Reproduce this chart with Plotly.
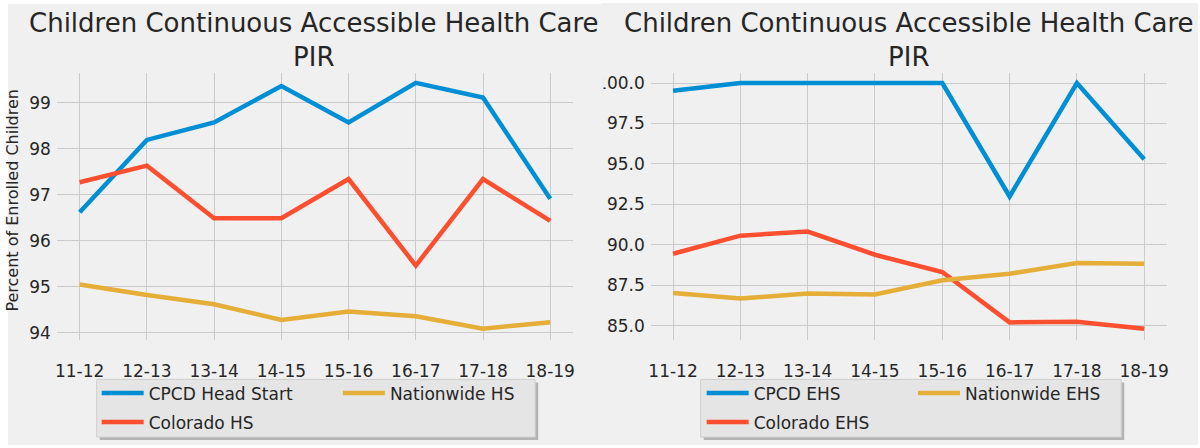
import plotly.graph_objects as go

# ---------------- data ----------------
years = ["11-12", "12-13", "13-14", "14-15", "15-16", "16-17", "17-18", "18-19"]

cpcd_hs = [96.62, 98.19, 98.57, 99.36, 98.57, 99.43, 99.11, 96.91]
colorado_hs = [97.27, 97.63, 96.49, 96.49, 97.34, 95.46, 97.34, 96.43]
nationwide_hs = [95.05, 94.82, 94.62, 94.28, 94.46, 94.36, 94.09, 94.23]

cpcd_ehs = [99.53, 100.0, 100.0, 100.0, 100.0, 92.99, 100.0, 95.29]
colorado_ehs = [89.45, 90.57, 90.82, 89.39, 88.32, 85.21, 85.25, 84.82]
nationwide_ehs = [87.03, 86.68, 86.99, 86.93, 87.81, 88.22, 88.88, 88.84]

left_yticks = [94, 95, 96, 97, 98, 99]
right_yticks = [85.0, 87.5, 90.0, 92.5, 95.0, 97.5, 100.0]

title_text = "Children Continuous Accessible Health Care<br>PIR"
ylabel_text = "Percent of Enrolled Children"

# ---------------- style ----------------
W, H = 1200, 448
BLUE, RED, YELLOW = "#008fd5", "#fc4f30", "#e5ae38"
BG = "#f0f0f0"
GRID = "#cbcbcb"
FONT = "DejaVu Sans"
TXT = "#262626"
LW = 4.5


def fx(px):
    return px / W


def fy(py):
    return 1 - py / H


fig = go.Figure()

left_series = [("CPCD Head Start", cpcd_hs, BLUE, "legend"),
               ("Colorado HS", colorado_hs, RED, "legend"),
               ("Nationwide HS", nationwide_hs, YELLOW, "legend3")]
right_series = [("CPCD EHS", cpcd_ehs, BLUE, "legend2"),
                ("Colorado EHS", colorado_ehs, RED, "legend2"),
                ("Nationwide EHS", nationwide_ehs, YELLOW, "legend4")]

for name, vals, col, lg in left_series:
    fig.add_trace(go.Scatter(x=years, y=vals, mode="lines", name=name,
                             legendgroup=name,
                             line=dict(color=col, width=LW),
                             xaxis="x", yaxis="y", legend=lg))
for name, vals, col, lg in right_series:
    fig.add_trace(go.Scatter(x=years, y=vals, mode="lines", name=name,
                             legendgroup=name,
                             line=dict(color=col, width=LW),
                             xaxis="x2", yaxis="y2", legend=lg))

ydom = [fy(342), fy(73)]
axis_common = dict(showline=False, zeroline=False, ticks="", showgrid=True,
                   gridcolor=GRID, gridwidth=1,
                   tickfont=dict(family=FONT, size=17, color=TXT))

fig.update_layout(
    xaxis=dict(domain=[fx(55), fx(573)], anchor="y", type="category",
               range=[-0.34, 7.34], ticklabelstandoff=19, **axis_common),
    yaxis=dict(domain=ydom, anchor="x", range=[93.849, 99.654],
               tickvals=left_yticks, ticklabelstandoff=5, **axis_common),
    xaxis2=dict(domain=[fx(651), fx(1169)], anchor="y2", type="category",
                range=[-0.33, 7.34], ticklabelstandoff=19, **axis_common),
    yaxis2=dict(domain=ydom, anchor="x2", range=[84.14, 100.65],
                tickvals=right_yticks, tickformat=".1f", ticklabelstandoff=5,
                **axis_common),
)

leg_common = dict(orientation="v", xanchor="left", yanchor="top",
                  bgcolor="rgba(0,0,0,0)", borderwidth=0, itemwidth=42,
                  font=dict(family=FONT, size=17, color=TXT),
                  traceorder="grouped", tracegroupgap=4)
fig.update_layout(
    legend=dict(x=fx(95), y=fy(378), **leg_common),
    legend3=dict(x=fx(337), y=fy(378), **leg_common),
    legend2=dict(x=fx(702), y=fy(378), **leg_common),
    legend4=dict(x=fx(914), y=fy(378), **leg_common),
)

shapes = [
    # page background with thin white border like the original images
    dict(type="rect", xref="paper", yref="paper", x0=fx(6), x1=fx(601),
         y0=fy(448), y1=fy(4), fillcolor=BG, line=dict(width=0), layer="below"),
    dict(type="rect", xref="paper", yref="paper", x0=fx(601), x1=fx(1200),
         y0=fy(448), y1=fy(3), fillcolor=BG, line=dict(width=0), layer="below"),
    # legend shadows and boxes
    dict(type="rect", xref="paper", yref="paper", x0=fx(98), x1=fx(538),
         y0=fy(443), y1=fy(385), fillcolor="#b4b4b4", line=dict(width=0), layer="below"),
    dict(type="rect", xref="paper", yref="paper", x0=fx(95), x1=fx(535),
         y0=fy(440), y1=fy(382), fillcolor="#e5e5e5",
         line=dict(width=1, color="#cfcfcf"), layer="below"),
    dict(type="rect", xref="paper", yref="paper", x0=fx(704), x1=fx(1126),
         y0=fy(443), y1=fy(385), fillcolor="#b4b4b4", line=dict(width=0), layer="below"),
    dict(type="rect", xref="paper", yref="paper", x0=fx(701), x1=fx(1123),
         y0=fy(440), y1=fy(382), fillcolor="#e5e5e5",
         line=dict(width=1, color="#cfcfcf"), layer="below"),
    # cropping of the original images (cuts the first digit of 100.0 and the y label)
    dict(type="rect", xref="paper", yref="paper", x0=fx(580), x1=fx(603.5),
         y0=fy(95), y1=fy(72), fillcolor=BG, line=dict(width=0), layer="above"),
    dict(type="rect", xref="paper", yref="paper", x0=0, x1=fx(5.5),
         y0=0, y1=1, fillcolor="white", line=dict(width=0), layer="above"),
]

annotations = [
    dict(text=title_text, xref="paper", yref="paper", x=fx(313), y=fy(6),
         xanchor="center", yanchor="top", showarrow=False,
         font=dict(family=FONT, size=26, color=TXT)),
    dict(text=title_text, xref="paper", yref="paper", x=fx(910), y=fy(6),
         xanchor="center", yanchor="top", showarrow=False,
         font=dict(family=FONT, size=26, color=TXT)),
    dict(text=ylabel_text, xref="paper", yref="paper", x=fx(11), y=fy(201),
         xanchor="center", yanchor="middle", showarrow=False, textangle=-90,
         font=dict(family=FONT, size=16, color=TXT)),
]

fig.update_layout(
    width=W, height=H, margin=dict(l=0, r=0, t=0, b=0, pad=0),
    paper_bgcolor="white", plot_bgcolor=BG,
    shapes=shapes, annotations=annotations,
    showlegend=True, hovermode=False,
)

fig.write_html("out.html",
               config={"displayModeBar": False},
               post_script="document.body.style.margin='0';"
                           "document.body.style.overflow='hidden';")
